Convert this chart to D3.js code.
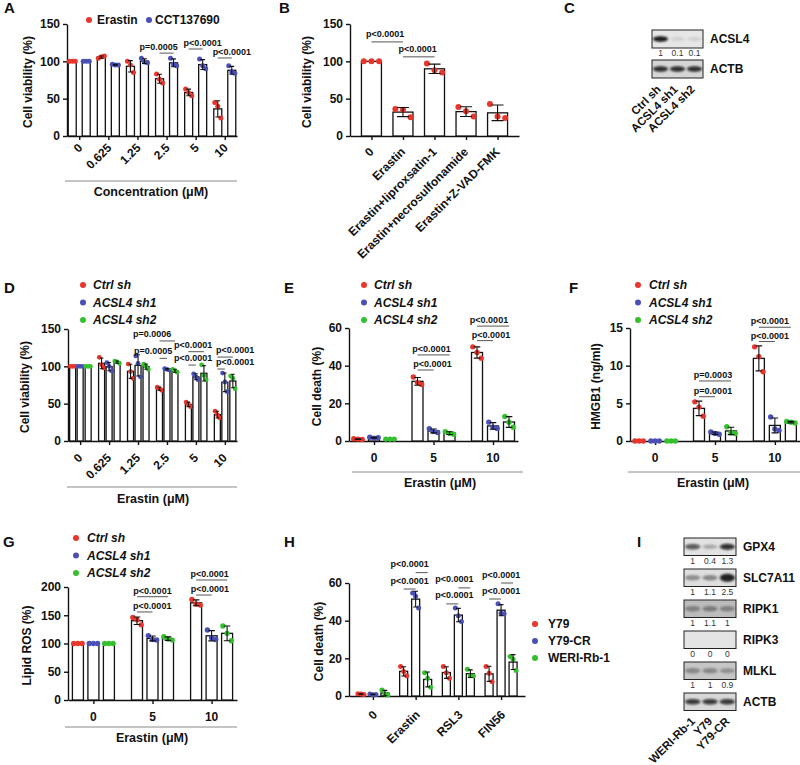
<!DOCTYPE html>
<html>
<head>
<meta charset="utf-8">
<script src="https://cdn.jsdelivr.net/npm/d3@7"></script>
<style>
  body { margin: 0; background: #fff; }
  svg { display: block; font-family: "Liberation Sans", Arial, Helvetica, sans-serif; }
</style>
</head>
<body>
<svg id="fig" width="800" height="765"></svg>
<script>
// ---- data ----
var seriesColors = ["#e8362c", "#4b50b4", "#36c02f"];

// A
var concA = ["0", "0.625", "1.25", "2.5", "5", "10"];
var legendA = ["Erastin", "CCT137690"];
var aErastin = [[100,100,100],[104,106,107],[100,95,85],[83,76,71],[63,58,54],[45,40,24]];
var aCCT = [[100,100,100],[96,95,95],[104,99,98],[104,96,94],[103,94,90],[94,86,84]];
var sigA = [["2.5",0,1,111,"p=0.0005",-8],["5",0,1,116.5,"p<0.0001",7],["10",0,1,104.5,"p<0.0001",7]];

// B
var treatB = ["0", "Erastin", "Erastin+liproxsatin-1", "Erastin+necrosulfonamide", "Erastin+Z-VAD-FMK"];
var bViability = [[100,100,100],[36,35,25],[97,88,85],[39,33,26],[43,26,24]];
var sigB = [["0","Erastin",126,"p<0.0001",-2],["Erastin","Erastin+liproxsatin-1",106,"p<0.0001",-1]];

// C
var lanesC = ["Ctrl sh", "ACSL4 sh1", "ACSL4 sh2"];
var blotsC = ["ACSL4", "ACTB"];
var bandsC = [[1,0.1,0.1],[1,1,1]];
var quantC = [["1","0.1","0.1"], null];

// D-G
var shNames = ["Ctrl sh", "ACSL4 sh1", "ACSL4 sh2"];
var dCtrl = [[100,100,100],[112,102,98],[103,93,84],[72,70,68],[52,49,46],[40,35,31]];
var dSh1  = [[100,100,100],[105,100,94],[114,104,86],[97,96,95],[90,86,82],[91,79,66]];
var dSh2  = [[100,100,100],[107,106,104],[103,100,96],[96,94,92],[102,88,82],[87,84,70]];
var sigD = [["2.5",0,2,134,"p=0.0006",-15],["2.5",0,1,110.7,"p=0.0005",-10],
            ["5",0,2,119.6,"p<0.0001",-3],["5",0,1,101.7,"p<0.0001",1],
            ["10",0,2,112.4,"p<0.0001",10],["10",0,1,96.4,"p<0.0001",14]];

var doseE = ["0", "5", "10"];
var eCtrl = [[1.2,1,0.8],[34,31,30],[50,47,44]];
var eSh1  = [[2,1.5,1.8],[6.5,5,4.5],[10,7.3,6.7]];
var eSh2  = [[1,1,1],[5,4,3.6],[13,10,7.3]];
var sigE = [["5",0,2,45.7,"p<0.0001",-2],["5",0,1,37.7,"p<0.0001",7],
            ["10",0,2,61,"p<0.0001",-4],["10",0,1,53.3,"p<0.0001",6]];

var fCtrl = [[0,0,0],[5.2,4.5,3.3],[12.5,11.2,9.2]];
var fSh1  = [[0,0,0],[1.2,1,0.9],[3.2,1.6,1.4]];
var fSh2  = [[0,0,0],[1.9,1.1,1],[2.6,2.5,2.4]];
var sigF = [["5",0,2,7.97,"p=0.0003",-2],["5",0,1,5.88,"p=0.0001",6],
            ["10",0,2,15.1,"p<0.0001",-5],["10",0,1,13.2,"p<0.0001",3]];

var gCtrl = [[100,100,100],[146,142,133],[178,170,168]];
var gSh1  = [[100,100,100],[114,107,106],[124,110,107]];
var gSh2  = [[100,100,100],[112,108,106],[131,118,105]];
var sigG = [["5",0,2,182.8,"p<0.0001",0],["5",0,1,155.8,"p<0.0001",7.5],
            ["10",0,2,212.4,"p<0.0001",-2],["10",0,1,185.8,"p<0.0001",6]];

// H
var treatH = ["0", "Erastin", "RSL3", "FIN56"];
var cellLines = ["Y79", "Y79-CR", "WERI-Rb-1"];
var hY79   = [[1.2,1,0.8],[15.6,13,10.7],[15.6,12.4,9.4],[15.6,12.1,7.6]];
var hY79CR = [[1,0.7,0.8],[54.7,52.9,46.7],[46.7,42.6,39.6],[49,44,43.7]];
var hWERI  = [[3.2,1,0.5],[12.4,9.4,4.6],[14.2,10.8,10.6],[21,19.5,13.5]];
var sigH = [["Erastin",1,2,65.5,"p<0.0001",-12],["Erastin",0,1,56.8,"p<0.0001",0],
            ["RSL3",1,2,57.4,"p<0.0001",-10],["RSL3",0,1,48.9,"p<0.0001",2],
            ["FIN56",1,2,60,"p<0.0001",-6],["FIN56",0,1,51.5,"p<0.0001",6]];

// I
var lanesI = ["WERI-Rb-1", "Y79", "Y79-CR"];
var blotsI = ["GPX4", "SLC7A11", "RIPK1", "RIPK3", "MLKL", "ACTB"];
var bandsI = [[1,0.4,1.3],[1,1.1,2.5],[1,1.1,1],[0,0,0],[1,1,0.9],[1,1,1]];
var quantI = [["1","0.4","1.3"],["1","1.1","2.5"],["1","1.1","1"],["0","0","0"],["1","1","0.9"], null];

// ---- drawing ----
var svg = d3.select("#fig");
var ink = "#111";

svg.append("defs").append("filter").attr("id", "blur")
  .attr("x", "-50%").attr("y", "-100%").attr("width", "200%").attr("height", "300%")
  .append("feGaussianBlur").attr("stdDeviation", 1.1);

function letter(t, x, y) {
  svg.append("text").attr("x", x).attr("y", y).attr("font-size", 15)
    .attr("font-weight", "bold").attr("fill", ink).text(t);
}

function styleAxis(ax) {
  ax.select(".domain").attr("stroke", ink).attr("stroke-width", 1.4);
  ax.selectAll(".tick line").attr("stroke", ink).attr("stroke-width", 1.4);
  ax.selectAll(".tick text").attr("font-size", 12).attr("font-weight", "bold")
    .attr("font-family", null).attr("fill", ink);
}

function axes(x, y, ticks, yTitle, titleX) {
  var x0 = x.range()[0], y0 = y(0);
  var ay = svg.append("g").attr("transform", "translate(" + x0 + ",0)")
    .call(d3.axisLeft(y).tickValues(ticks).tickSize(4).tickSizeOuter(0).tickPadding(3));
  styleAxis(ay);
  var ax = svg.append("g").attr("transform", "translate(0," + y0 + ")")
    .call(d3.axisBottom(x).tickSize(4).tickSizeOuter(0).tickFormat(""));
  styleAxis(ax);
  var mid = (y.range()[0] + y.range()[1]) / 2;
  svg.append("text").attr("transform", "translate(" + titleX + "," + (mid + 2) + ") rotate(-90)")
    .attr("text-anchor", "middle").attr("font-size", 12).attr("font-weight", "bold")
    .attr("fill", ink).text(yTitle);
}

function bars(groups, series, x, y, offsets, bw, r) {
  var g = svg.append("g");
  series.forEach(function(ser, si) {
    var rows = ser.map(function(pts, gi) {
      return { g: groups[gi], pts: pts, m: d3.mean(pts), s: d3.deviation(pts) || 0 };
    });
    var cx = function(d) { return x(d.g) + offsets[si]; };
    g.selectAll(null).data(rows).enter().append("rect")
      .attr("x", function(d) { return cx(d) - bw / 2; })
      .attr("y", function(d) { return y(d.m); })
      .attr("width", bw)
      .attr("height", function(d) { return y(0) - y(d.m); })
      .attr("fill", "#fff").attr("stroke", ink).attr("stroke-width", 1.3);
    var spread = bw * 0.38;
    rows.forEach(function(d) {
      g.selectAll(null).data(d.pts).enter().append("circle")
        .attr("cx", function(v, i) { return cx(d) + (i - 1) * spread; })
        .attr("cy", function(v) { return y(v); })
        .attr("r", r).attr("fill", seriesColors[si]);
    });
    var cap = bw * 0.3;
    g.selectAll(null).data(rows.filter(function(d) { return d.s > 0; })).enter()
      .append("path")
      .attr("d", function(d) {
        var c = cx(d), t = y(d.m + d.s), b = y(Math.max(0, d.m - d.s));
        return "M" + c + "," + t + "V" + b +
          "M" + (c - cap) + "," + t + "H" + (c + cap) +
          "M" + (c - cap) + "," + b + "H" + (c + cap);
      })
      .attr("fill", "none").attr("stroke", ink).attr("stroke-width", 1.1);
  });
}

function sigMarks(list, x, y, offsets, gap) {
  list.forEach(function(s) {
    var x1 = x(s[0]) + offsets[s[1]], x2 = x(s[0]) + offsets[s[2]], yy = y(s[3]);
    svg.append("line").attr("x1", x1).attr("x2", x2).attr("y1", yy).attr("y2", yy)
      .attr("stroke", "#555").attr("stroke-width", 1);
    svg.append("text").attr("x", (x1 + x2) / 2 + s[5]).attr("y", yy - gap)
      .attr("text-anchor", "middle").attr("font-size", 9).attr("font-weight", "bold")
      .attr("fill", ink).text(s[4]);
  });
}

function rotLabels(labels, x, y0, dx, size) {
  svg.append("g").selectAll("text").data(labels).enter().append("text")
    .attr("transform", function(d) { return "translate(" + (x(d) + dx) + "," + y0 + ") rotate(-45)"; })
    .attr("text-anchor", "end").attr("font-size", size).attr("font-weight", "bold")
    .attr("fill", ink).text(function(d) { return d; });
}

function flatLabels(labels, x, y0) {
  svg.append("g").selectAll("text").data(labels).enter().append("text")
    .attr("x", function(d) { return x(d); }).attr("y", y0)
    .attr("text-anchor", "middle").attr("font-size", 12).attr("font-weight", "bold")
    .attr("fill", ink).text(function(d) { return d; });
}

function xTitle(t, x1, x2, lineY, cx, ty) {
  svg.append("line").attr("x1", x1).attr("x2", x2).attr("y1", lineY).attr("y2", lineY)
    .attr("stroke", "#8a8a8a").attr("stroke-width", 1);
  svg.append("text").attr("x", cx).attr("y", ty).attr("text-anchor", "middle")
    .attr("font-size", 12.5).attr("font-weight", "bold").attr("fill", ink).text(t);
}

function legend(names, x, y0, dy, dxText, italic) {
  names.forEach(function(n, i) {
    svg.append("circle").attr("cx", x).attr("cy", y0 + i * dy).attr("r", 3)
      .attr("fill", seriesColors[i]);
    svg.append("text").attr("x", x + dxText).attr("y", y0 + i * dy + 4.3)
      .attr("font-size", 12).attr("font-weight", "bold")
      .attr("font-style", italic ? "italic" : null).attr("fill", ink).text(n);
  });
}

// blot rows: background and band tone are styling only
function blot(lanes, names, bands, quant, xLane, yTop, h, bg, tone) {
  var x0 = xLane.range()[0], x1 = xLane.range()[1], step = xLane.step();
  names.forEach(function(nm, ri) {
    var top = yTop(nm);
    svg.append("rect").attr("x", x0).attr("y", top).attr("width", x1 - x0).attr("height", h)
      .attr("fill", bg[ri]).attr("stroke", "#222").attr("stroke-width", 1);
    svg.append("g").attr("filter", "url(#blur)").selectAll("ellipse").data(bands[ri]).enter()
      .append("ellipse")
      .attr("cx", function(v, i) { return xLane(lanes[i]); })
      .attr("cy", top + h / 2)
      .attr("rx", step * 0.44)
      .attr("ry", function(v) { return 1.8 + 0.9 * Math.min(v, 2.5); })
      .attr("fill", "#0a0a0a")
      .attr("opacity", function(v) { return Math.min(0.95, tone[ri] * v); });
    svg.append("text").attr("x", x1 + 7).attr("y", top + h / 2 + 4.3)
      .attr("font-size", 12).attr("font-weight", "bold").attr("fill", ink).text(nm);
    if (quant[ri]) {
      svg.append("g").selectAll("text").data(quant[ri]).enter().append("text")
        .attr("x", function(v, i) { return xLane(lanes[i]); })
        .attr("y", top + h + 8)
        .attr("text-anchor", "middle").attr("font-size", 8.5).attr("fill", "#333")
        .text(function(v) { return v; });
    }
  });
}

// ---- A ----
letter("A", 4, 13);
var xA = d3.scalePoint().domain(concA).range([67, 237]).padding(0.42);
var yA = d3.scaleLinear().domain([0, 150]).range([136, 24]);
axes(xA, yA, [0, 50, 100, 150], "Cell viability (%)", 32);
bars(concA, [aErastin, aCCT], xA, yA, [-7, 7], 8, 2.5);
sigMarks(sigA, xA, yA, [-7, 7], 3);
rotLabels(concA, xA, 148.5, 4, 12);
xTitle("Concentration (μM)", 65, 237, 181, 151, 196);
svg.append("circle").attr("cx", 89).attr("cy", 20).attr("r", 3).attr("fill", seriesColors[0]);
svg.append("text").attr("x", 97).attr("y", 24.3).attr("font-size", 12).attr("font-weight", "bold").attr("fill", ink).text(legendA[0]);
svg.append("circle").attr("cx", 149).attr("cy", 20).attr("r", 3).attr("fill", seriesColors[1]);
svg.append("text").attr("x", 155).attr("y", 24.3).attr("font-size", 12).attr("font-weight", "bold").attr("fill", ink).text(legendA[1]);

// ---- B ----
letter("B", 279, 13);
var xB = d3.scalePoint().domain(treatB).range([350, 519]).padding(0.68);
var yB = d3.scaleLinear().domain([0, 150]).range([136, 24]);
axes(xB, yB, [0, 50, 100, 150], "Cell viability (%)", 311);
bars(treatB, [bViability], xB, yB, [0], 20, 3);
sigB.forEach(function(s) {
  var x1 = xB(s[0]), x2 = xB(s[1]), yy = yB(s[2]);
  svg.append("line").attr("x1", x1).attr("x2", x2).attr("y1", yy).attr("y2", yy)
    .attr("stroke", "#555").attr("stroke-width", 1);
  svg.append("text").attr("x", (x1 + x2) / 2 + s[4]).attr("y", yy - 5)
    .attr("text-anchor", "middle").attr("font-size", 9).attr("font-weight", "bold")
    .attr("fill", ink).text(s[3]);
});
rotLabels(treatB, xB, 152.5, 3, 12);

// ---- C ----
letter("C", 564, 13);
var xC = d3.scalePoint().domain(lanesC).range([652, 703]).padding(0.5);
var yC = d3.scalePoint().domain(blotsC).range([30, 60]);
blot(lanesC, blotsC, bandsC, quantC, xC, yC, 18, ["#e6e6e6", "#d6d6d6"], [0.95, 0.85]);
rotLabels(lanesC, xC, 90, 1, 11.5);

// ---- D ----
letter("D", 4, 293);
legend(shNames, 83, 285, 17.5, 10, true);
var xD = d3.scalePoint().domain(concA).range([68, 237]).padding(0.42);
var yD = d3.scaleLinear().domain([0, 150]).range([441, 329]);
axes(xD, yD, [0, 50, 100, 150], "Cell viability (%)", 29);
bars(concA, [dCtrl, dSh1, dSh2], xD, yD, [-7.5, 0, 8], 6, 2.4);
sigMarks(sigD, xD, yD, [-7.5, 0, 8], 4);
rotLabels(concA, xD, 458.5, 3, 12);
xTitle("Erastin (μM)", 67, 237, 487, 153, 503);

// ---- E ----
letter("E", 284, 293);
legend(shNames, 364, 285, 17.5, 10, true);
var xE = d3.scalePoint().domain(doseE).range([349, 518]).padding(0.42);
var yE = d3.scaleLinear().domain([0, 60]).range([441, 328]);
axes(xE, yE, [0, 20, 40, 60], "Cell death (%)", 320.5);
bars(doseE, [eCtrl, eSh1, eSh2], xE, yE, [-16, 0, 16], 11, 2.7);
sigMarks(sigE, xE, yE, [-16, 0, 16], 3);
flatLabels(doseE, xE, 462);
xTitle("Erastin (μM)", 352, 523, 472, 440, 487);

// ---- F ----
letter("F", 569, 293);
legend(shNames, 638, 285, 17.5, 11, true);
var xF = d3.scalePoint().domain(doseE).range([630, 800]).padding(0.42);
var yF = d3.scaleLinear().domain([0, 15]).range([441, 328]);
axes(xF, yF, [0, 5, 10, 15], "HMGB1 (ng/ml)", 600);
bars(doseE, [fCtrl, fSh1, fSh2], xF, yF, [-16, 0, 16], 11, 2.7);
sigMarks(sigF, xF, yF, [-16, 0, 16], 3);
flatLabels(doseE, xF, 462);
xTitle("Erastin (μM)", 628, 800, 472, 713, 487);

// ---- G ----
letter("G", 3, 547);
legend(shNames, 76, 538, 17.5, 11, true);
var xG = d3.scalePoint().domain(doseE).range([68, 237]).padding(0.43);
var yG = d3.scaleLinear().domain([0, 200]).range([700, 587]);
axes(xG, yG, [0, 50, 100, 150, 200], "Lipid ROS (%)", 31);
bars(doseE, [gCtrl, gSh1, gSh2], xG, yG, [-15.5, 0, 15.5], 11, 2.7);
sigMarks(sigG, xG, yG, [-15.5, 0, 15.5], 3);
flatLabels(doseE, xG, 721);
xTitle("Erastin (μM)", 65, 237, 727, 152, 742);

// ---- H ----
letter("H", 284, 547);
legend(cellLines, 535, 624, 17, 13, false);
var xH = d3.scalePoint().domain(treatH).range([349, 525]).padding(0.56);
var yH = d3.scaleLinear().domain([0, 60]).range([696, 583]);
axes(xH, yH, [0, 20, 40, 60], "Cell death (%)", 322.5);
bars(treatH, [hY79, hY79CR, hWERI], xH, yH, [-12, 0, 12], 8, 2.5);
sigMarks(sigH, xH, yH, [-12, 0, 12], 5.5);
rotLabels(treatH, xH, 715.5, 5, 12);

// ---- I ----
letter("I", 637, 547);
var xI = d3.scalePoint().domain(lanesI).range([684, 736]).padding(0.5);
var yI = d3.scalePoint().domain(blotsI).range([538, 693]);
blot(lanesI, blotsI, bandsI, quantI, xI, yI, 17.5,
  ["#e2e2e2", "#dedede", "#bcbcbc", "#e4e4e4", "#c6c6c6", "#d8d8d8"],
  [0.65, 0.36, 0.32, 0, 0.32, 0.8]);
rotLabels(lanesI, xI, 722, 3, 11.5);
</script>
</body>
</html>
